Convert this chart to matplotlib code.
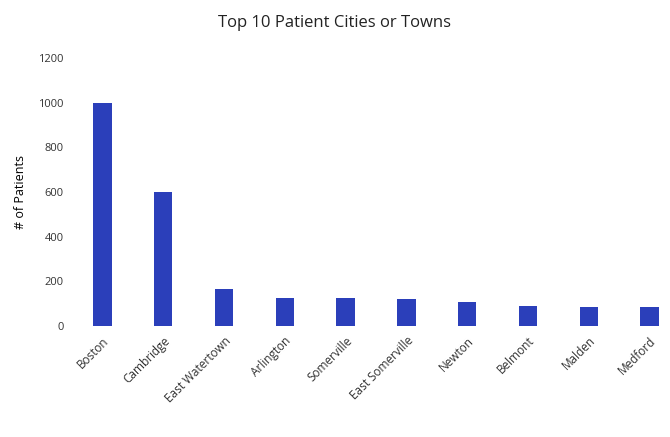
import matplotlib
matplotlib.use("Agg")
import matplotlib.pyplot as plt

cities = ["Boston", "Cambridge", "East Watertown", "Arlington", "Somerville",
          "East Somerville", "Newton", "Belmont", "Malden", "Medford"]
patients = [1000, 600, 165, 125, 125, 122, 108, 90, 86, 85]
yticks = [0, 200, 400, 600, 800, 1000, 1200]

plt.rcParams["font.family"] = ["Open Sans", "DejaVu Sans"]

fig = plt.figure(figsize=(6.7, 4.37), dpi=100)
ax = fig.add_axes([72 / 670, 111 / 437, 608 / 670, 268 / 437])

x = range(len(cities))
ax.bar(x, patients, width=0.3, color="#2B3FBA")

ax.set_xlim(-0.5, len(cities) - 0.5)
ax.set_ylim(0, 1200)
ax.set_yticks(yticks)
ax.set_yticklabels([str(v) for v in yticks], fontsize=8, color="#333333")
ax.set_xticks(list(x))
ax.set_xticklabels(cities, rotation=45, ha="right", rotation_mode="anchor",
                   fontsize=8.5, color="#333333")
ax.tick_params(length=0, pad=6)
for s in ax.spines.values():
    s.set_visible(False)

ax.set_ylabel("# of Patients", fontsize=9, labelpad=8)
fig.text(0.5, 0.948, "Top 10 Patient Cities or Towns", ha="center", va="center",
         fontsize=12, color="#222222")

fig.savefig("out.png", dpi=100)
